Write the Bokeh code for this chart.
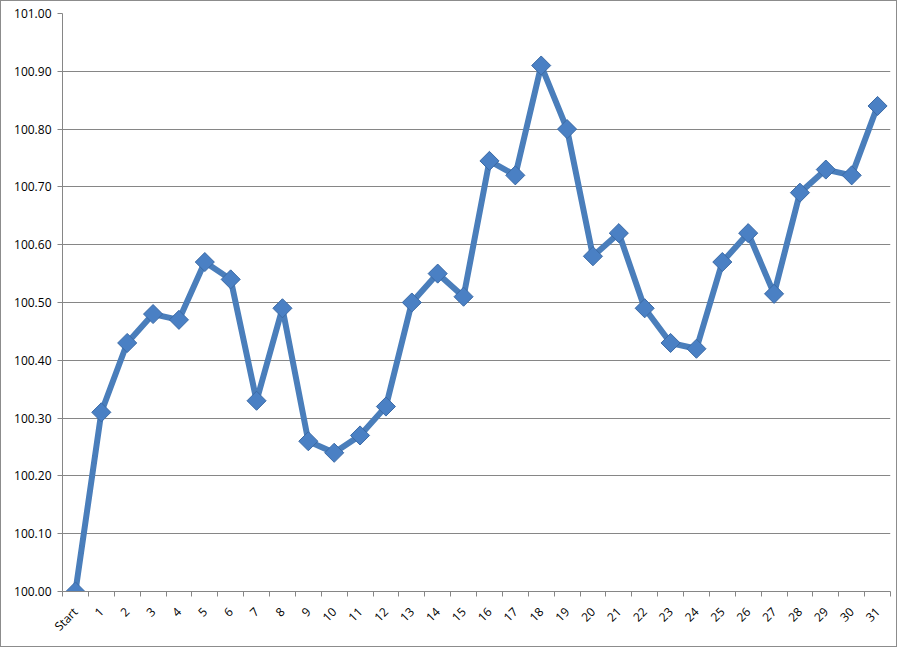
import numpy as np
from bokeh.plotting import figure
from bokeh.models import FixedTicker, Range1d, ColumnDataSource, NumeralTickFormatter
from bokeh.embed import file_html
from bokeh.resources import INLINE

categories = ["Start"] + [str(i) for i in range(1, 32)]
values = [100.00, 100.31, 100.43, 100.48, 100.47, 100.57, 100.54, 100.33, 100.49,
          100.26, 100.24, 100.27, 100.32, 100.50, 100.55, 100.51, 100.745, 100.72,
          100.91, 100.80, 100.58, 100.62, 100.49, 100.43, 100.42, 100.57, 100.62,
          100.515, 100.69, 100.73, 100.72, 100.84]
y_ticks = [100.0 + 0.1 * i for i in range(11)]

xs = list(range(len(categories)))
src = ColumnDataSource(dict(x=xs, y=values))

p = figure(width=895, height=645, output_backend="svg", toolbar_location=None,
           x_range=Range1d(-0.5, len(categories) - 0.5), y_range=Range1d(100.0, 101.0),
           min_border_left=61, min_border_right=6, min_border_top=12, min_border_bottom=55)
p.frame_width = 828
p.frame_height = 578
p.outline_line_color = None
p.background_fill_color = "white"
p.border_fill_color = "white"
p.styles = {"border": "1px solid #8c8c8c"}

grey = "#868686"
font = "Open Sans"

# x axis
p.xaxis.ticker = FixedTicker(ticks=xs, minor_ticks=[i - 0.5 for i in range(len(categories) + 1)])
p.xaxis.major_label_overrides = {i: c for i, c in enumerate(categories)}
p.xaxis.major_tick_line_color = None
p.xaxis.minor_tick_line_color = grey
p.xaxis.minor_tick_out = 5
p.xaxis.minor_tick_in = 0
p.xaxis.axis_line_color = grey
p.xaxis.major_label_orientation = np.pi / 4
p.xaxis.major_label_text_font = font
p.xaxis.major_label_text_font_size = "12px"
p.xaxis.major_label_text_color = "black"
p.xaxis.major_label_standoff = 12

# y axis
p.yaxis.ticker = FixedTicker(ticks=y_ticks)
p.yaxis.formatter = NumeralTickFormatter(format="0.00")
p.yaxis.major_tick_line_color = grey
p.yaxis.major_tick_out = 5
p.yaxis.major_tick_in = 0
p.yaxis.minor_tick_line_color = None
p.yaxis.axis_line_color = grey
p.yaxis.major_label_text_font = font
p.yaxis.major_label_text_font_size = "12px"
p.yaxis.major_label_text_color = "black"
p.yaxis.major_label_standoff = 6

p.xgrid.grid_line_color = None
p.ygrid.ticker = FixedTicker(ticks=y_ticks)
p.ygrid.grid_line_color = grey
p.ygrid.grid_line_width = 1

p.line("x", "y", source=src, line_color="#4a7ebb", line_width=6, line_join="round")
p.scatter("x", "y", source=src, marker="square", angle=np.pi / 4, size=13.5,
          fill_color="#4a80c4", line_color="#3b6aa6", line_width=1)

open("out.html", "w").write(file_html(p, INLINE))
